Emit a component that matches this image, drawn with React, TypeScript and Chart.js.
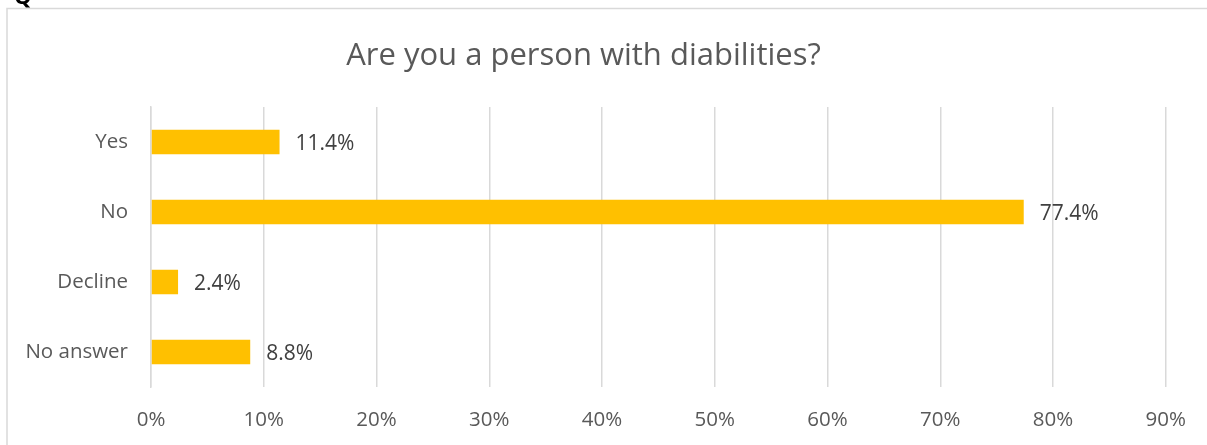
import React, { useEffect, useRef } from "react";
import { Chart, registerables } from "chart.js";

Chart.register(...registerables);

const categories = ["Yes", "No", "Decline", "No answer"];
const values = [11.4, 77.4, 2.4, 8.8];
const valueLabels = ["11.4%", "77.4%", "2.4%", "8.8%"];
const xTicks = [0, 10, 20, 30, 40, 50, 60, 70, 80, 90];
const titleText = "Are you a person with diabilities?";

const FONT = "'Open Sans', sans-serif";

const framePlugin = {
  id: "frame",
  beforeDraw(chart: any) {
    const ctx = chart.ctx;
    ctx.save();
    ctx.fillStyle = "#ffffff";
    ctx.fillRect(0, 0, chart.width, chart.height);
    ctx.strokeStyle = "#d9d9d9";
    ctx.lineWidth = 1.5;
    ctx.beginPath();
    ctx.moveTo(7, chart.height);
    ctx.lineTo(7, 8.5);
    ctx.lineTo(chart.width, 8.5);
    ctx.stroke();
    ctx.fillStyle = "#000000";
    ctx.font = "bold 22px " + FONT;
    ctx.textBaseline = "alphabetic";
    ctx.fillText("Q", 14, 4);
    ctx.restore();
  },
};

const valueLabelPlugin = {
  id: "valueLabels",
  afterDatasetsDraw(chart: any) {
    const ctx = chart.ctx;
    const meta = chart.getDatasetMeta(0);
    ctx.save();
    ctx.fillStyle = "#404040";
    ctx.font = "21px " + FONT;
    ctx.textAlign = "left";
    ctx.textBaseline = "middle";
    meta.data.forEach((bar: any, i: number) => {
      ctx.fillText(valueLabels[i], bar.x + 16, bar.y + 2);
    });
    ctx.restore();
  },
};

export default function App() {
  const ref = useRef<HTMLCanvasElement | null>(null);
  useEffect(() => {
    if (!ref.current) return;
    const chart = new Chart(ref.current, {
      type: "bar",
      data: {
        labels: categories,
        datasets: [
          {
            data: values,
            backgroundColor: "#ffc000",
            borderWidth: 0,
            categoryPercentage: 1,
            barPercentage: 0.35,
          },
        ],
      },
      options: {
        indexAxis: "y",
        animation: false,
        responsive: false,
        maintainAspectRatio: false,
        layout: { padding: { left: 0, right: 40, top: 0, bottom: 0 } },
        plugins: {
          legend: { display: false },
          tooltip: { enabled: false },
          title: {
            display: true,
            text: titleText,
            color: "#595959",
            font: { family: FONT, size: 31, weight: "normal", lineHeight: 1.2 },
            padding: { top: 37.5, bottom: 32.3 },
          },
        },
        scales: {
          x: {
            min: 0,
            max: 90,
            afterBuildTicks(scale: any) {
              scale.ticks = xTicks.map((v) => ({ value: v }));
            },
            afterFit(scale: any) {
              scale.height = 58;
            },
            ticks: {
              color: "#595959",
              font: { family: FONT, size: 20.5 },
              padding: 21,
              callback: (v: any) => v + "%",
            },
            grid: { color: "#d9d9d9", lineWidth: 1.5, drawTicks: false },
            border: { display: false },
          },
          y: {
            afterFit(scale: any) {
              scale.width = 151;
            },
            ticks: {
              color: "#595959",
              font: { family: FONT, size: 20.5 },
              padding: 23,
            },
            grid: { display: false, drawTicks: false },
            border: { display: true, color: "#d9d9d9", width: 1.5 },
          },
        },
      },
      plugins: [framePlugin, valueLabelPlugin],
    });
    return () => chart.destroy();
  }, []);
  return (
    <div style={{ position: "fixed", left: 0, top: 0, width: 1207, height: 445, background: "#fff" }}>
      <canvas ref={ref} width={1207} height={445} style={{ display: "block" }} />
    </div>
  );
}
